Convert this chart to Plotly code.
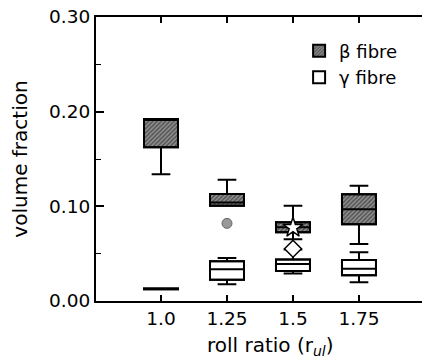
import plotly.graph_objects as go

# roll ratio categories and their numeric slots on the x axis
roll_ratios = ["1.0", "1.25", "1.5", "1.75"]
x_pos = [0, 1, 2, 3]

# beta fibre volume fraction box statistics
beta_lower = [0.134, 0.1007, 0.0652, 0.0602]
beta_q1 = [0.1624, 0.1007, 0.0726, 0.0810]
beta_median = [0.1920, 0.1040, 0.0778, 0.0969]
beta_q3 = [0.1923, 0.1130, 0.0831, 0.1127]
beta_upper = [0.1923, 0.1280, 0.1007, 0.1218]

# gamma fibre volume fraction box statistics
gamma_lower = [0.0123, 0.0176, 0.0290, 0.0197]
gamma_q1 = [0.0123, 0.0225, 0.0317, 0.0271]
gamma_median = [0.0127, 0.0335, 0.0390, 0.0341]
gamma_q3 = [0.0131, 0.0419, 0.0438, 0.0433]
gamma_upper = [0.0131, 0.0454, 0.0545, 0.0514]

# individual points
outlier_x = [1]
outlier_y = [0.082]
star_x = [2]
star_y = [0.0775]
diamond_x = [2]
diamond_y = [0.0552]

y_ticks = [0.0, 0.1, 0.2, 0.3]

BOX_W = 0.515
FONT = "DejaVu Sans"

fig = go.Figure()

# hatched fill behind the beta boxes
fig.add_trace(go.Bar(
    x=x_pos, base=beta_q1, y=[q3 - q1 for q1, q3 in zip(beta_q1, beta_q3)],
    width=BOX_W, name="β fibre",
    marker=dict(color="#808080", line=dict(color="black", width=2),
                pattern=dict(shape="/", fgcolor="#111", bgcolor="#929292",
                             size=3, solidity=0.5)),
    hoverinfo="skip", showlegend=True,
))
# white fill behind the gamma boxes
fig.add_trace(go.Bar(
    x=x_pos, base=gamma_q1, y=[q3 - q1 for q1, q3 in zip(gamma_q1, gamma_q3)],
    width=BOX_W, name="γ fibre",
    marker=dict(color="white", line=dict(color="black", width=2)),
    hoverinfo="skip", showlegend=True,
))

box_style = dict(width=BOX_W, whiskerwidth=0.55, fillcolor="rgba(0,0,0,0)",
                 line=dict(color="black", width=2), showlegend=False,
                 boxpoints=False)
fig.add_trace(go.Box(x=x_pos, q1=beta_q1, median=beta_median, q3=beta_q3,
                     lowerfence=beta_lower, upperfence=beta_upper, **box_style))
fig.add_trace(go.Box(x=x_pos, q1=gamma_q1, median=gamma_median, q3=gamma_q3,
                     lowerfence=gamma_lower, upperfence=gamma_upper, **box_style))

fig.add_trace(go.Scatter(
    x=outlier_x, y=outlier_y, mode="markers", showlegend=False,
    marker=dict(symbol="circle", size=10, color="#999999",
                line=dict(color="#666666", width=1)),
))
fig.add_trace(go.Scatter(
    x=star_x, y=star_y, mode="markers", showlegend=False,
    marker=dict(symbol="star", size=15, color="white",
                line=dict(color="black", width=1.5)),
))
fig.add_trace(go.Scatter(
    x=diamond_x, y=diamond_y, mode="markers", showlegend=False,
    marker=dict(symbol="diamond", size=13, color="white",
                line=dict(color="black", width=1.5)),
))

fig.update_layout(
    width=422, height=359,
    margin=dict(l=96, r=0, t=17, b=58),
    paper_bgcolor="white", plot_bgcolor="white",
    barmode="overlay", boxmode="overlay",
    font=dict(family=FONT, size=18, color="black"),
    legend=dict(x=0.623, y=0.945, xanchor="left", yanchor="top",
                bgcolor="rgba(0,0,0,0)", font=dict(size=18),
                tracegroupgap=0, itemwidth=30),
)
# x axis title placed below the tick labels
fig.add_annotation(
    text="roll ratio (r<sub><i>ul</i></sub>)", xref="paper", yref="paper",
    x=0.534, y=-0.158, xanchor="center", yanchor="middle", showarrow=False,
    font=dict(family=FONT, size=20, color="black"),
)
fig.update_xaxes(
    range=[-0.985, 3.955], tickmode="array", tickvals=x_pos, ticktext=roll_ratios,
    ticks="inside", ticklen=6, tickwidth=1.5, tickcolor="black",
    showline=True, linecolor="black", linewidth=2, mirror="ticks",
    showgrid=False, zeroline=False, tickfont=dict(size=18.5),
)
fig.update_yaxes(
    range=[0, 0.3], tickmode="array", tickvals=y_ticks, tickformat=".2f",
    ticks="inside", ticklen=8, tickwidth=1.5, tickcolor="black",
    minor=dict(ticks="inside", ticklen=5, tickwidth=1.2, tickcolor="black", dtick=0.05,
               showgrid=False),
    showline=True, linecolor="black", linewidth=2, mirror=False,
    showgrid=False, zeroline=False, tickfont=dict(size=18.5),
    title=dict(text="volume fraction", font=dict(size=20), standoff=16),
)

fig.write_html("out.html")
